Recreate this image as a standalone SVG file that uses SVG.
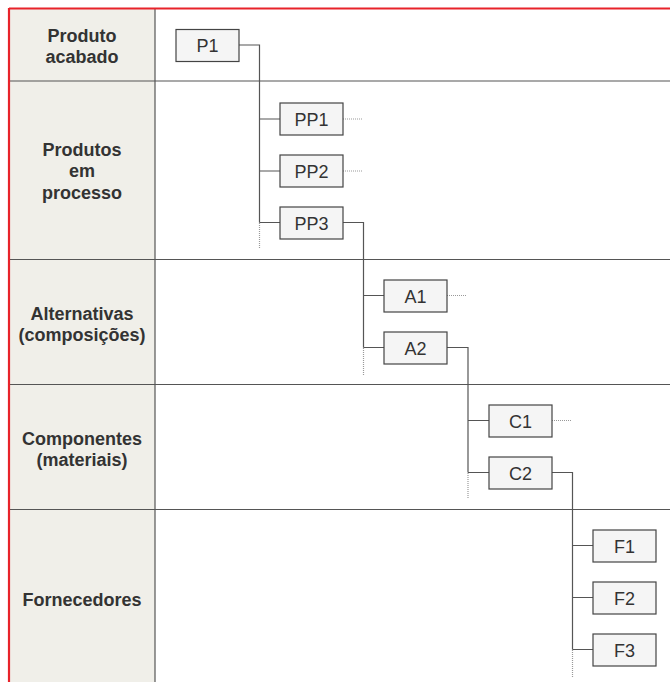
<svg xmlns="http://www.w3.org/2000/svg" width="670" height="682" viewBox="0 0 670 682">
<style>
.lbl{font-family:"Liberation Sans",Arial,sans-serif;font-weight:bold;font-size:18px;fill:#333;text-anchor:middle}
.bx rect{fill:#f5f5f5;stroke:#444;stroke-width:1.2}
.bx text{font-family:"Liberation Sans",Arial,sans-serif;font-size:18px;fill:#333;text-anchor:middle}
.ln{fill:none;stroke:#555;stroke-width:1.2}
.dt{fill:none;stroke:#999;stroke-width:1.2;stroke-dasharray:1,1}
.grid{stroke:#555;stroke-width:1.2}
</style>
<rect x="0" y="0" width="670" height="682" fill="#fff"/>
<g id="column">
<rect x="9" y="9" width="146" height="673" fill="#f0efe9"/>
<line class="grid" x1="155" y1="9" x2="155" y2="682"/>
<line class="grid" x1="9" y1="81" x2="670" y2="81"/>
<line class="grid" x1="9" y1="259.5" x2="670" y2="259.5"/>
<line class="grid" x1="9" y1="384.5" x2="670" y2="384.5"/>
<line class="grid" x1="9" y1="509.5" x2="670" y2="509.5"/>
<line x1="9" y1="8.5" x2="670" y2="8.5" stroke="#e8232a" stroke-width="2.2"/>
<line x1="9" y1="8" x2="9" y2="682" stroke="#e8232a" stroke-width="2.2"/>
</g>
<g id="labels">
<text class="lbl" x="82" y="41.5">Produto</text>
<text class="lbl" x="82" y="63">acabado</text>
<text class="lbl" x="82" y="155.5">Produtos</text>
<text class="lbl" x="82" y="177">em</text>
<text class="lbl" x="82" y="198.5">processo</text>
<text class="lbl" x="82" y="320">Alternativas</text>
<text class="lbl" x="82" y="341">(composições)</text>
<text class="lbl" x="82" y="445">Componentes</text>
<text class="lbl" x="82" y="466">(materiais)</text>
<text class="lbl" x="82" y="605.5">Fornecedores</text>
</g>
<g id="connectors">
<path class="ln" d="M239 45H259.5V222.5M259.5 119H280M259.5 171H280M259.5 222.5H280"/>
<path class="dt" d="M259.5 223V249M343 119H362M343 171H362"/>
<path class="ln" d="M343 222.5H363.5V347.5M363.5 295.5H384M363.5 347.5H384"/>
<path class="dt" d="M363.5 348V375M447 295.5H466"/>
<path class="ln" d="M447 347.5H468V472.5M468 420.5H489M468 472.5H489"/>
<path class="dt" d="M468 473V499M552 420.5H572"/>
<path class="ln" d="M552 472.5H572.5V649.5M572.5 545.5H593M572.5 597.5H593M572.5 649.5H593"/>
<path class="dt" d="M572.5 650V678"/>
</g>
<g id="P1" class="bx"><rect x="176" y="29.5" width="63" height="32"/><text x="207.5" y="52">P1</text></g>
<g id="PP1" class="bx"><rect x="280" y="103" width="63" height="32"/><text x="311.5" y="125.5">PP1</text></g>
<g id="PP2" class="bx"><rect x="280" y="155" width="63" height="32"/><text x="311.5" y="177.5">PP2</text></g>
<g id="PP3" class="bx"><rect x="280" y="207" width="63" height="32"/><text x="311.5" y="229.5">PP3</text></g>
<g id="A1" class="bx"><rect x="384" y="280" width="63" height="32"/><text x="415.5" y="302.5">A1</text></g>
<g id="A2" class="bx"><rect x="384" y="332" width="63" height="32"/><text x="415.5" y="354.5">A2</text></g>
<g id="C1" class="bx"><rect x="489" y="405" width="63" height="32"/><text x="520.5" y="427.5">C1</text></g>
<g id="C2" class="bx"><rect x="489" y="457" width="63" height="32"/><text x="520.5" y="479.5">C2</text></g>
<g id="F1" class="bx"><rect x="593" y="530" width="63" height="32"/><text x="624.5" y="552.5">F1</text></g>
<g id="F2" class="bx"><rect x="593" y="582" width="63" height="32"/><text x="624.5" y="604.5">F2</text></g>
<g id="F3" class="bx"><rect x="593" y="634" width="63" height="32"/><text x="624.5" y="656.5">F3</text></g>
</svg>
